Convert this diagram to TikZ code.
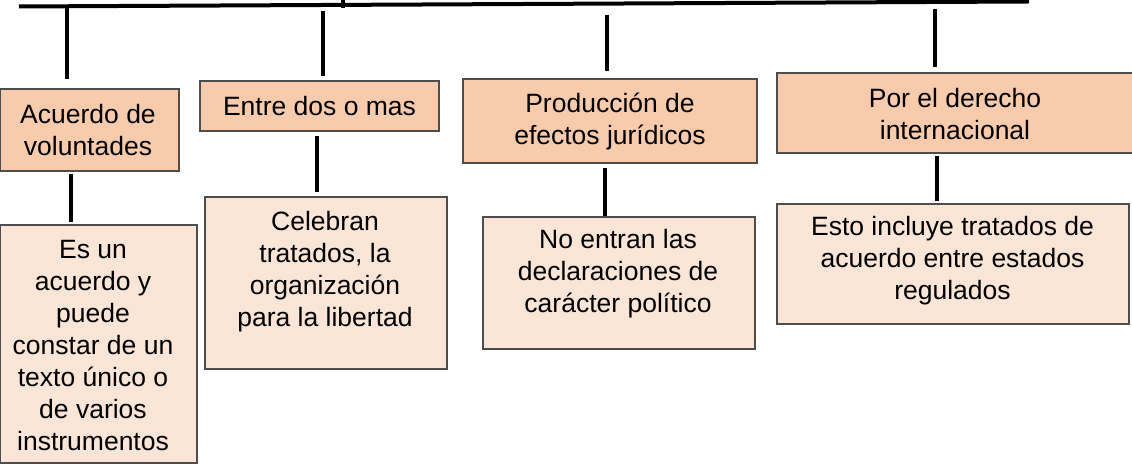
\documentclass[tikz,border=0pt]{standalone}
\usepackage{fontspec}
\setmainfont{Liberation Sans}
\usetikzlibrary{calc}
\definecolor{topfill}{HTML}{F8CBAD}
\definecolor{lowfill}{HTML}{FBE5D6}
\definecolor{boxline}{HTML}{4D4D4D}
\begin{document}
\begin{tikzpicture}[x=1pt,y=1pt,
  topbox/.style={draw=boxline,line width=1.5pt,fill=topfill,rectangle,inner sep=0pt},
  lowbox/.style={draw=boxline,line width=1.5pt,fill=lowfill,rectangle,inner sep=0pt},
  txt/.style={align=center,inner sep=0pt,font=\fontsize{26.5}{32}\selectfont},
  conn/.style={draw=black,line width=4pt},
  tick/.style={draw=black,line width=3.5pt}]
\useasboundingbox (0,0) rectangle (1132,463);
% top line
\coordinate (L0) at (19,456.5);
\coordinate (L1) at (1029,461.5);
\draw[conn] (L0) -- (L1);
\coordinate (k0) at (343,463);
\coordinate (k1) at (343,455);
\draw[tick] (k0) -- (k1);
% connector start points
\coordinate (t1) at (67,458);
\coordinate (t2) at (323,452);
\coordinate (t3) at (607,448);
\coordinate (t4) at (935,454);
% top boxes
\node[topbox,minimum width=179pt,minimum height=82pt] (a1) at (89.5,333) {};
\node[topbox,minimum width=239pt,minimum height=50pt] (b1) at (319.5,357) {};
\node[topbox,minimum width=294pt,minimum height=84pt] (c1) at (610,342) {};
\node[topbox,minimum width=357pt,minimum height=80pt] (d1) at (955.5,350) {};
\node[txt] (a1t) at (88,333) {Acuerdo de\\voluntades};
\node[txt] (b1t) at (319.5,357) {Entre dos o mas};
\node[txt] (c1t) at (610,342) {Producción de\\efectos jurídicos};
\node[txt] (d1t) at (955,348.5) {Por el derecho\\internacional};
% lower boxes
\node[lowbox,minimum width=197pt,minimum height=238pt] (a2) at (98.5,119) {};
\node[lowbox,minimum width=242pt,minimum height=172pt] (b2) at (326,180) {};
\node[lowbox,minimum width=272pt,minimum height=132pt] (c2) at (619,180) {};
\node[lowbox,minimum width=352pt,minimum height=120pt] (d2) at (953,199) {};
\node[txt] (a2t) at (93,117) {Es un\\acuerdo y\\puede\\constar de un\\texto único o\\de varios\\instrumentos};
\node[txt] (b2t) at (325,191) {Celebran\\tratados, la\\organización\\para la libertad};
\node[txt] (c2t) at (618,189) {No entran las\\declaraciones de\\carácter político};
\node[txt] (d2t) at (952.5,202) {Esto incluye tratados de\\acuerdo entre estados\\regulados};
% connectors: top line to top boxes
\draw[conn] (t1) -- ($(a1.north -| t1)+(0,9)$);
\draw[conn] (t2) -- ($(b1.north -| t2)+(0,4)$);
\draw[conn] (t3) -- ($(c1.north -| t3)+(0,7)$);
\draw[conn] (t4) -- ($(d1.north -| t4)+(0,5)$);
% connectors: top boxes to lower boxes
\draw[conn] ($(a1.south)+(-18.5,-2)$) -- ($(a2.north)+(-27.5,2)$);
\draw[conn] ($(b1.south)+(-2.5,-4)$) -- ($(b2.north)+(-9,4)$);
\draw[conn] ($(c1.south)+(-5,-4)$) -- ($(c2.north)+(-14,0)$);
\draw[conn] ($(d1.south)+(-18.5,-2)$) -- ($(d2.north)+(-16,2)$);
\end{tikzpicture}
\end{document}
